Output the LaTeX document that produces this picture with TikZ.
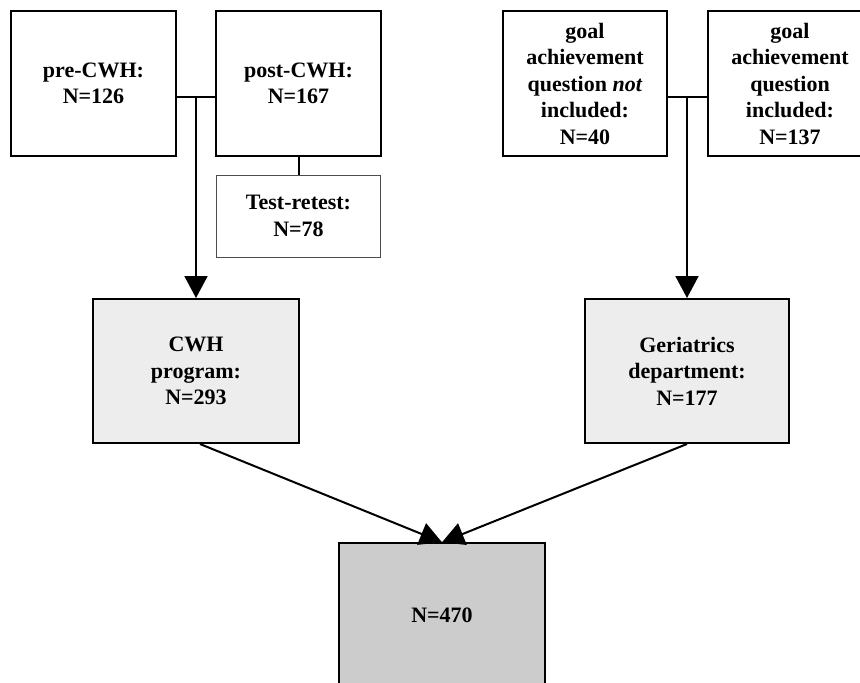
\documentclass[tikz,border=0pt]{standalone}
\usepackage{fontspec}
\setmainfont{Liberation Serif}
\usetikzlibrary{arrows.meta}
\tikzset{
  box/.style={draw,line width=2pt,align=center,font=\bfseries\fontsize{22}{26.5}\selectfont,inner sep=0pt},
  smallbox/.style={box,draw=black!70,line width=1pt},
  link/.style={line width=2pt},
  arr/.style={link,-{Triangle[width=23pt,length=22pt]}}
}
\begin{document}
\begin{tikzpicture}[x=1pt,y=1pt]
	\useasboundingbox (0,0) rectangle (860,-683);
	\clip (0,0) rectangle (860,-683);
	\node[box,minimum width=165pt,minimum height=145pt] (pre) at (93.5,-83.5) {pre-CWH:\\N=126};
	\node[box,minimum width=165pt,minimum height=145pt] (post) at (298.5,-83.5) {post-CWH:\\N=167};
	\node[smallbox,minimum width=164pt,minimum height=82pt] (test) at (298.5,-216) {Test-retest:\\N=78};
	\node[box,minimum width=164pt,minimum height=145pt] (goalno) at (585,-83.5) {goal\\achievement\\question \textit{not}\\included:\\N=40};
	\node[box,minimum width=164pt,minimum height=145pt] (goalin) at (790,-83.5) {goal\\achievement\\question\\included:\\N=137};
	\node[box,fill=black!7,minimum width=206pt,minimum height=144pt] (cwh) at (196,-371) {CWH\\program:\\N=293};
	\node[box,fill=black!7,minimum width=204pt,minimum height=144pt] (geri) at (687,-371) {Geriatrics\\department:\\N=177};
	\node[box,fill=black!20,line width=1.5pt,minimum width=206pt,minimum height=144pt] (total) at (442,-615) {N=470};
	\coordinate (j1) at (196,-96.5);
	\coordinate (j2) at (687,-96.5);
	\draw[link] (pre.east |- j1) -- (post.west |- j1);
	\draw[arr] (j1) -- (cwh.north);
	\draw[link] (post.south) -- (test.north);
	\draw[link] (goalno.east |- j2) -- (goalin.west |- j2);
	\draw[arr] (j2) -- (geri.north);
	\draw[arr] ([xshift=4pt]cwh.south) -- (total.north);
	\draw[arr] (geri.south) -- (total.north);
\end{tikzpicture}
\end{document}
